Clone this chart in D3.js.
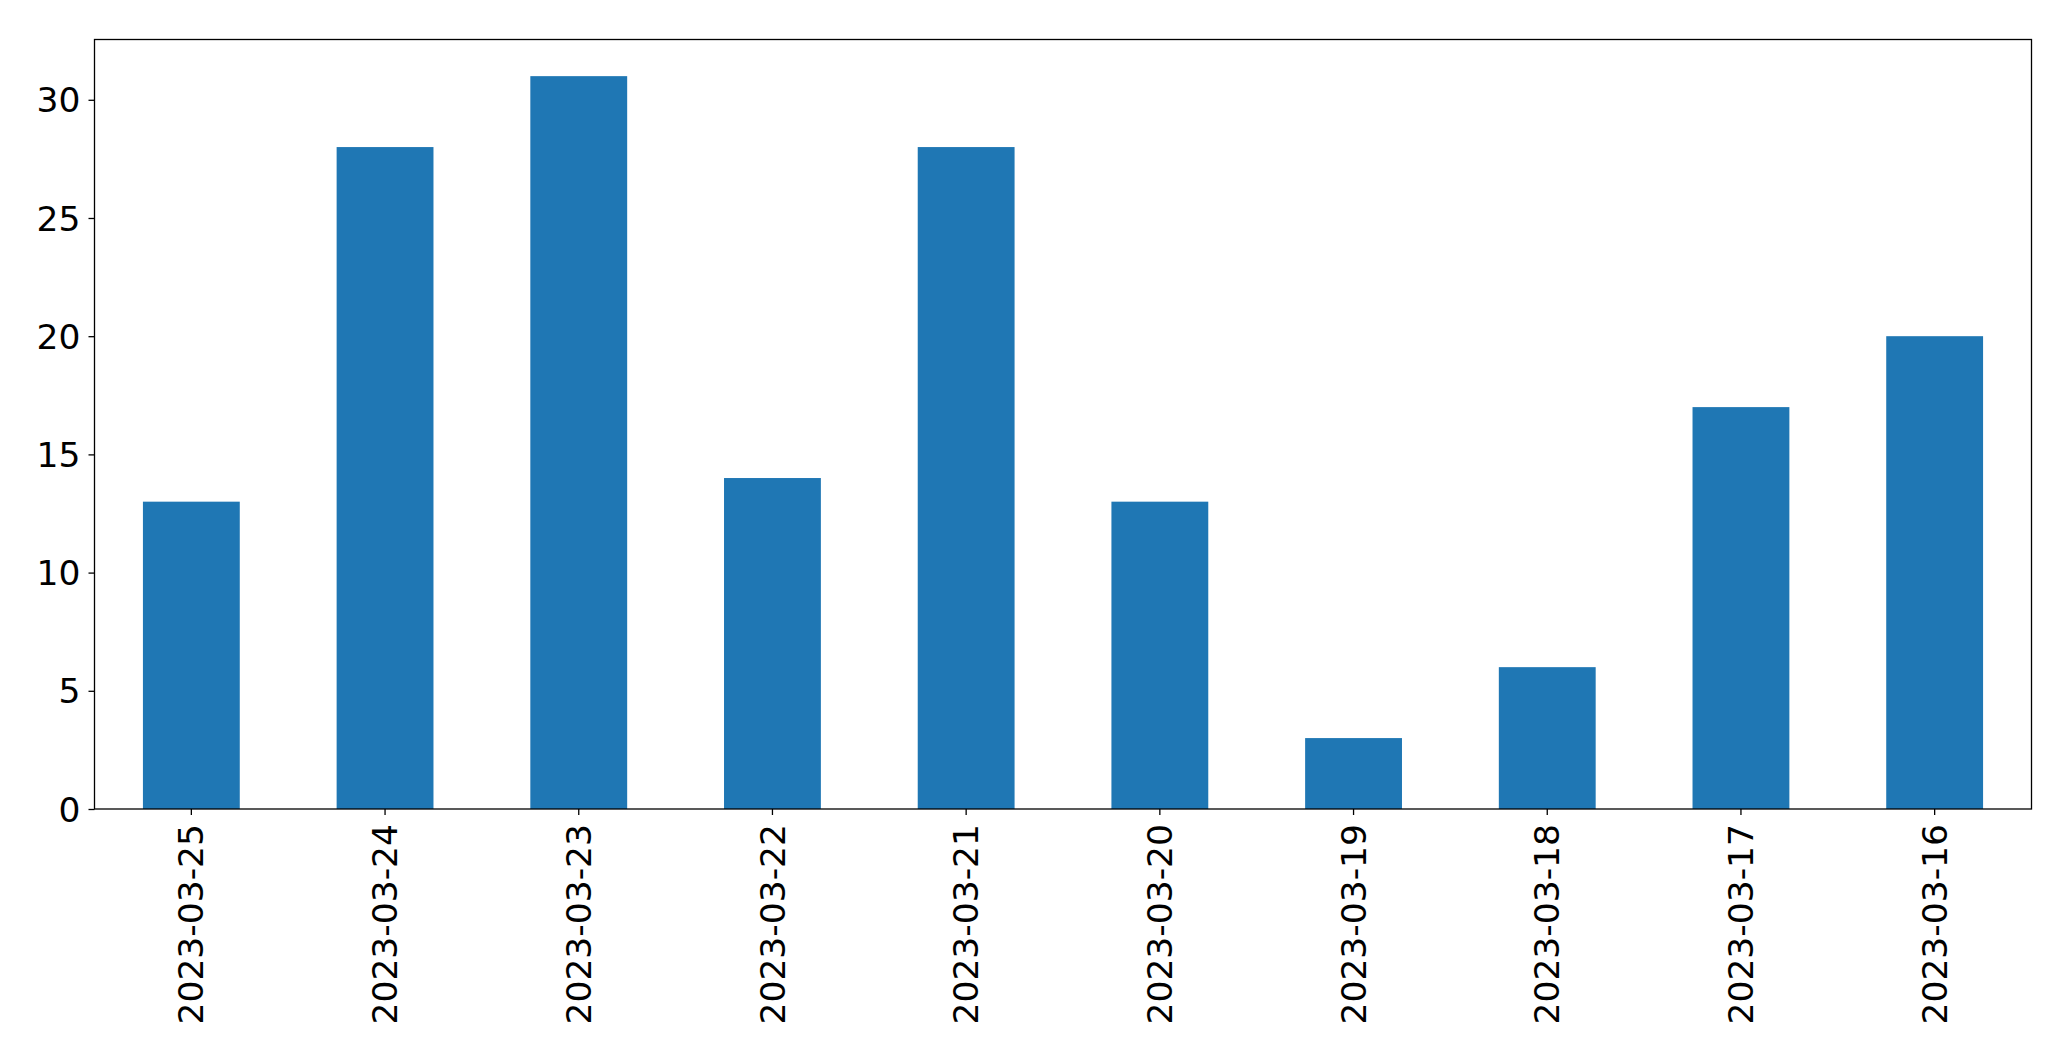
<!DOCTYPE html>
<html><head><meta charset="utf-8">
<script src="https://cdn.jsdelivr.net/npm/d3@7"></script>
<style>body{margin:0;background:#fff}svg{display:block}text{font-family:"DejaVu Sans",sans-serif;fill:#000}</style>
</head><body>
<svg id="chart" width="2071" height="1061"></svg>
<script>
const categories = ["2023-03-25","2023-03-24","2023-03-23","2023-03-22","2023-03-21","2023-03-20","2023-03-19","2023-03-18","2023-03-17","2023-03-16"];
const values = [13, 28, 31, 14, 28, 13, 3, 6, 17, 20];
const yTicks = [0, 5, 10, 15, 20, 25, 30];

const svg = d3.select("#chart");
const L = 94.5, R = 2031.5, T = 39.5, B = 809;
const fs = 34.5;

const x = d3.scaleBand().domain(categories).range([L, R]).paddingInner(0.5).paddingOuter(0.25);
const y = d3.scaleLinear().domain([0, d3.max(values) * 1.05]).range([B, T]);

svg.append("g").selectAll("rect").data(values).join("rect")
  .attr("x", (d, i) => x(categories[i]))
  .attr("width", x.bandwidth())
  .attr("y", d => y(d))
  .attr("height", d => B - y(d))
  .attr("fill", "#1f77b4");

const xAxis = svg.append("g").attr("transform", `translate(0,${B})`)
  .call(d3.axisBottom(x).tickSize(6).tickPadding(8).tickSizeOuter(0));
xAxis.select(".domain").remove();
xAxis.selectAll("line").attr("stroke", "#000").attr("stroke-width", 1.3);
xAxis.selectAll("text")
  .attr("font-size", fs)
  .attr("transform", "rotate(-90)")
  .attr("text-anchor", "end")
  .attr("x", -15).attr("y", 0).attr("dy", "0.35em");

const yAxis = svg.append("g").attr("transform", `translate(${L},0)`)
  .call(d3.axisLeft(y).tickValues(yTicks).tickSize(6).tickPadding(8));
yAxis.select(".domain").remove();
yAxis.selectAll("line").attr("stroke", "#000").attr("stroke-width", 1.3);
yAxis.selectAll("text").attr("font-size", fs).attr("dy", "0.35em");

svg.append("rect").attr("x", L).attr("y", T).attr("width", R - L).attr("height", B - T)
  .attr("fill", "none").attr("stroke", "#000").attr("stroke-width", 1.3);
</script>
</body></html>
